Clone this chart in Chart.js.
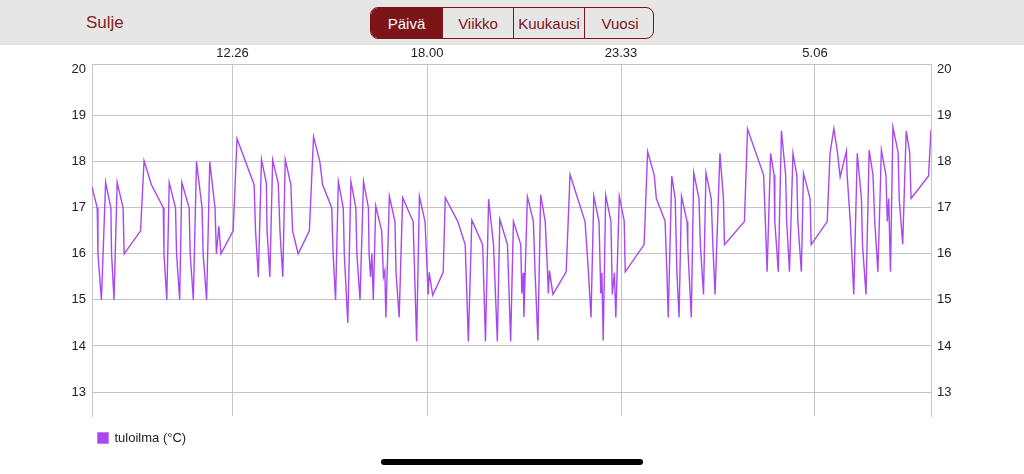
<!DOCTYPE html>
<html lang="fi">
<head>
    <meta charset="UTF-8">
    <title>tuloilma</title>
    <script src="https://cdn.jsdelivr.net/npm/chart.js@4.4.1/dist/chart.umd.min.js"></script>
    <style>
        body {
            margin: 0;
            width: 1024px;
            height: 474px;
            background-color: #FFFFFF;
            font-family: "Liberation Sans", Arial, sans-serif;
            overflow: hidden;
            position: relative;
        }
        #header {
            position: absolute;
            left: 0; top: 0;
            width: 1024px; height: 45px;
            background-color: #e6e6e6;
        }
        #closeBtn {
            position: absolute;
            left: 86px; top: 13px;
            font-size: 17px;
            color: #8a1d22;
        }
        #segments {
            position: absolute;
            left: 370px; top: 7px;
            width: 282px; height: 30px;
            border: 1.5px solid #7b1518;
            border-radius: 8px;
            display: flex;
            overflow: hidden;
        }
        #segments div {
            flex: 0 0 71px;
            display: flex;
            align-items: center;
            justify-content: center;
            font-size: 15px;
            color: #7b1518;
            border-left: 1px solid #7b1518;
            box-sizing: border-box;
        }
        #segments div:first-child { border-left: none; }
        #segments div.active { background-color: #7b1518; color: #FFFFFF; }
        #chartBox {
            position: absolute;
            left: 0; top: 45px;
            width: 1024px; height: 429px;
        }
        #homeBar {
            position: absolute;
            left: 381px; top: 459px;
            width: 262px; height: 6px;
            border-radius: 3px;
            background-color: #000000;
        }
    </style>
</head>
<body>
    <div id="header">
        <div id="closeBtn">Sulje</div>
        <div id="segments">
            <div class="active">Päivä</div>
            <div>Viikko</div>
            <div>Kuukausi</div>
            <div>Vuosi</div>
        </div>
    </div>
    <div id="chartBox"><canvas id="tempChart"></canvas></div>
    <div id="homeBar"></div>

    <script>
        // time of day in hours (values over 24 = next morning)
        const times = [
            8.41, 8.56, 8.58, 8.68, 8.80, 8.95, 8.97, 9.04, 9.13, 9.30,
            9.33, 9.80, 9.90, 10.11, 10.45, 10.47, 10.55, 10.62, 10.80, 10.83,
            10.92, 10.98, 11.19, 11.22, 11.31, 11.40, 11.56, 11.59, 11.69, 11.78,
            11.93, 11.97, 12.04, 12.10, 12.45, 12.56, 13.05, 13.09, 13.17, 13.26,
            13.40, 13.42, 13.50, 13.58, 13.74, 13.79, 13.87, 13.94, 14.10, 14.15,
            14.31, 14.63, 14.75, 14.93, 15.01, 15.27, 15.31, 15.38, 15.46, 15.60,
            15.63, 15.73, 15.82, 15.96, 15.99, 16.08, 16.18, 16.32, 16.34, 16.38,
            16.42, 16.46, 16.53, 16.70, 16.75, 16.79, 16.82, 16.92, 17.08, 17.11,
            17.20, 17.30, 17.60, 17.70, 17.78, 17.94, 18.03, 18.06, 18.16, 18.46,
            18.52, 18.88, 19.09, 19.18, 19.28, 19.59, 19.67, 19.76, 19.90, 20.01,
            20.08, 20.30, 20.39, 20.47, 20.68, 20.71, 20.75, 20.77, 20.87, 21.04,
            21.09, 21.17, 21.25, 21.38, 21.44, 21.47, 21.50, 21.60, 21.98, 22.09,
            22.52, 22.62, 22.69, 22.77, 22.92, 22.97, 23.00, 23.04, 23.11, 23.26,
            23.30, 23.36, 23.40, 23.50, 23.64, 23.67, 24.21, 24.31, 24.50, 24.56,
            24.81, 24.86, 24.90, 25.00, 25.10, 25.15, 25.21, 25.28, 25.44, 25.46,
            25.56, 25.63, 25.78, 25.82, 25.91, 25.98, 26.13, 26.18, 26.24, 26.38,
            26.48, 26.51, 27.08, 27.17, 27.63, 27.68, 27.73, 27.83, 27.93, 27.95,
            28.05, 28.14, 28.26, 28.29, 28.37, 28.47, 28.58, 28.61, 28.71, 28.77,
            28.96, 28.99, 29.45, 29.53, 29.64, 29.74, 29.82, 30.00, 30.02, 30.11,
            30.21, 30.31, 30.43, 30.46, 30.56, 30.65, 30.76, 30.81, 30.90, 31.00,
            31.13, 31.17, 31.21, 31.26, 31.33, 31.48, 31.51, 31.61, 31.71, 31.81,
            31.85, 32.35, 32.42
        ];
        const temps = [
            17.45, 17.0, 16.0, 15.0, 17.55, 17.0, 16.0, 15.0, 17.55, 17.0,
            16.0, 16.5, 18.02, 17.5, 17.0, 16.0, 15.0, 17.55, 17.0, 16.0,
            15.0, 17.55, 17.0, 16.0, 15.0, 18.0, 17.0, 16.0, 15.0, 18.0,
            17.0, 16.0, 16.6, 16.0, 16.5, 18.5, 17.5, 16.5, 15.5, 18.05,
            17.53, 16.5, 15.5, 18.04, 17.53, 16.48, 15.5, 18.05, 17.5, 16.5,
            16.0, 16.5, 18.54, 18.0, 17.5, 17.0, 16.0, 15.0, 17.57, 17.0,
            16.0, 14.5, 17.57, 17.0, 16.0, 15.0, 17.57, 17.0, 16.0, 15.5,
            16.0, 15.0, 17.04, 16.5, 15.5, 15.63, 14.62, 17.25, 16.7, 15.6,
            14.62, 17.22, 16.7, 14.1, 17.25, 16.7, 15.12, 15.6, 15.1, 15.6,
            17.22, 16.7, 16.2, 14.1, 16.73, 16.2, 14.1, 17.19, 16.2, 14.1,
            16.75, 16.2, 14.1, 16.7, 16.2, 15.14, 15.59, 14.63, 17.24, 16.71,
            15.59, 14.12, 17.28, 16.7, 15.72, 15.14, 15.64, 15.12, 15.61, 17.72,
            16.7, 15.57, 14.62, 17.25, 16.7, 15.14, 15.59, 14.12, 17.27, 16.71,
            15.12, 15.59, 14.62, 17.25, 16.71, 15.61, 16.2, 18.22, 17.71, 17.2,
            16.71, 15.64, 14.62, 17.69, 17.2, 15.57, 14.62, 17.25, 16.7, 16.15,
            14.62, 17.76, 17.2, 16.19, 15.12, 17.76, 17.2, 16.15, 15.12, 18.18,
            17.2, 16.2, 16.7, 18.71, 17.71, 16.7, 15.61, 18.18, 17.71, 16.7,
            15.61, 18.67, 17.71, 16.7, 15.61, 18.18, 17.71, 16.7, 15.61, 17.75,
            17.2, 16.2, 16.7, 18.18, 18.72, 18.22, 17.67, 18.23, 17.71, 16.7,
            15.12, 18.18, 17.2, 16.19, 15.12, 18.25, 17.71, 16.7, 15.61, 18.25,
            17.71, 16.7, 17.2, 15.61, 18.75, 18.2, 17.2, 16.21, 18.67, 18.2,
            17.2, 17.69, 18.69
        ];
        const tickValues = [12.43, 18.0, 23.55, 29.1];
        const tickLabels = ['12.26', '18.00', '23.33', '5.06'];

        const lineColor = 'rgb(168, 72, 240)';
        const gridColor = '#c4c4c4';
        const labelColor = '#222222';
        const tickFont = { family: '"Liberation Sans", Arial, sans-serif', size: 13 };

        const points = times.map((t, i) => ({ x: t, y: temps[i] }));

        const ctx = document.getElementById('tempChart').getContext('2d');
        const chart = new Chart(ctx, {
            type: 'line',
            data: {
                datasets: [{
                    label: 'tuloilma (°C)',
                    data: points,
                    borderColor: lineColor,
                    backgroundColor: lineColor,
                    borderWidth: 1.4,
                    pointRadius: 0,
                    tension: 0,
                    fill: false
                }]
            },
            options: {
                responsive: true,
                maintainAspectRatio: false,
                animation: false,
                layout: { padding: { top: 0, bottom: 19.5, left: 0, right: 0 } },
                scales: {
                    x: {
                        type: 'linear',
                        position: 'top',
                        min: 8.41,
                        max: 32.42,
                        afterBuildTicks: (scale) => {
                            scale.ticks = tickValues.map(v => ({ value: v }));
                        },
                        afterFit: (scale) => { scale.height = 19; },
                        ticks: {
                            color: labelColor,
                            font: tickFont,
                            padding: 3,
                            maxRotation: 0,
                            callback: (value, index) => tickLabels[index]
                        },
                        grid: { color: gridColor, drawTicks: false },
                        border: { display: true, color: gridColor }
                    },
                    gap: {
                        type: 'linear',
                        axis: 'x',
                        position: 'bottom',
                        display: true,
                        afterFit: (scale) => { scale.height = 9.5; },
                        ticks: { display: false },
                        grid: { display: false },
                        border: { display: false }
                    },
                    y: {
                        position: 'left',
                        min: 12.48,
                        max: 20.12,
                        afterFit: (scale) => { scale.width = 92; },
                        ticks: {
                            stepSize: 1,
                            includeBounds: false,
                            color: labelColor,
                            font: tickFont,
                            padding: 6
                        },
                        grid: {
                            drawTicks: false,
                            color: (c) => (c.tick && c.tick.value === 20) ? 'rgba(0,0,0,0)' : gridColor
                        },
                        border: { display: true, color: gridColor }
                    },
                    y2: {
                        position: 'right',
                        min: 12.48,
                        max: 20.12,
                        afterFit: (scale) => { scale.width = 93; },
                        ticks: {
                            stepSize: 1,
                            includeBounds: false,
                            color: labelColor,
                            font: tickFont,
                            padding: 6
                        },
                        grid: { display: false, drawTicks: false },
                        border: { display: true, color: gridColor }
                    }
                },
                plugins: {
                    legend: {
                        position: 'bottom',
                        align: 'start',
                        fullSize: false,
                        labels: {
                            color: labelColor,
                            font: tickFont,
                            boxWidth: 10,
                            boxHeight: 10,
                            padding: 6
                        }
                    },
                    tooltip: { enabled: false }
                }
            }
        });
    </script>
</body>
</html>
